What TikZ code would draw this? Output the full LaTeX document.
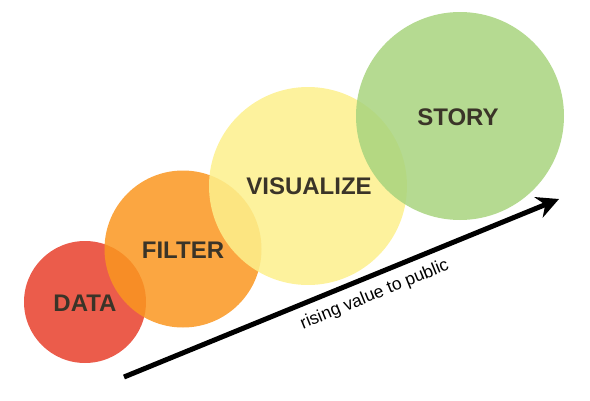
\documentclass[tikz,border=0pt]{standalone}
\usepackage{fontspec}
\setmainfont{Liberation Sans}
\usetikzlibrary{arrows.meta}

\definecolor{datared}{HTML}{E8402C}
\definecolor{filterorange}{HTML}{FA9620}
\definecolor{visyellow}{HTML}{FDF08C}
\definecolor{storygreen}{HTML}{A8D47E}
\definecolor{inkgray}{HTML}{3A3428}

\tikzset{
  blob/.style={circle, inner sep=0pt, fill opacity=0.85, draw=none},
  word/.style={font=\fontsize{24}{24}\selectfont\bfseries, text=inkgray}
}

\begin{document}
\begin{tikzpicture}[x=1pt, y=-1pt]

\useasboundingbox (0,0) rectangle (590,400);

\node[blob, fill=datared, minimum size=122pt] (data) at (85,302) {};
\node[blob, fill=filterorange, minimum size=157pt] (filter) at (183,249) {};
\node[blob, fill=visyellow, minimum size=198pt] (visualize) at (308,186) {};
\node[blob, fill=storygreen, minimum size=208pt] (story) at (460,116) {};

\node[word] (dataword) at (85,303) {DATA};
\node[word] (filterword) at (183,250) {FILTER};
\node[word] (visualizeword) at (309,186) {VISUALIZE};
\node[word] (storyword) at (458,117) {STORY};

\coordinate (low) at (124,377);
\coordinate (high) at (559,199);

\draw[line width=5pt, -{Stealth[length=22pt, width=22pt]}] (low) -- (high)
  node[pos=0.56, below=5pt, sloped, font=\fontsize{17.5}{17.5}\selectfont, text=black] (rising) {rising value to public};

\end{tikzpicture}
\end{document}
